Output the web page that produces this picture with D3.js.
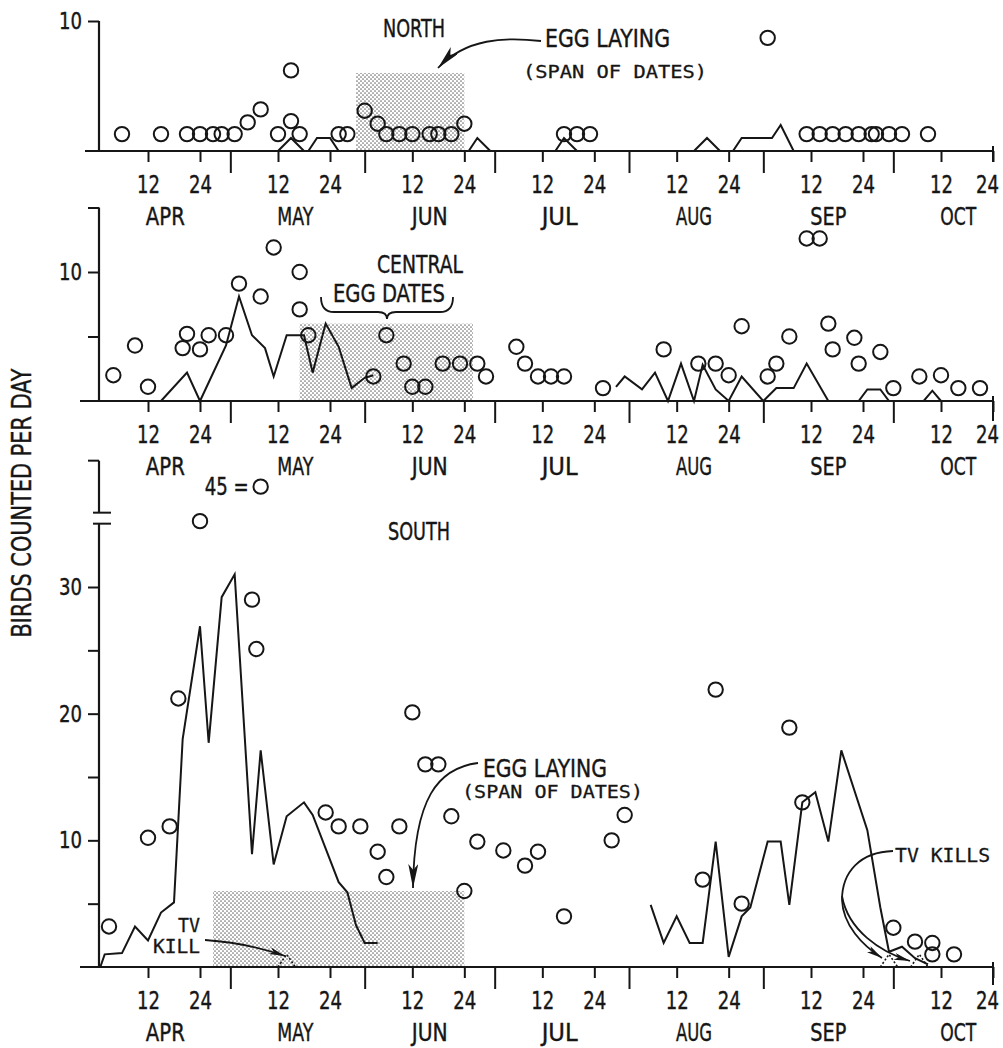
<!DOCTYPE html>
<html>
<head>
<meta charset="utf-8">
<title>Birds counted per day</title>
<script src="https://cdn.jsdelivr.net/npm/d3@7"></script>
<style>
  body { margin: 0; background: #fff; }
  svg { display: block; }
  .lbl { font-family: "Liberation Sans Narrow", "DejaVu Sans Condensed", "Liberation Sans", sans-serif; fill: #161616; stroke: #161616; stroke-width: 0.4px; }
  .typed { font-family: "DejaVu Sans Mono", "Liberation Mono", monospace; fill: #161616; stroke: #161616; stroke-width: 0.3px; }
</style>
</head>
<body>
<div id="chart"></div>
<script>
/* * * * * * * * * * * * * * * * *
 *  birds counted per day, 3 zones *
 * * * * * * * * * * * * * * * * */

// ---- data (dates are MM-DD) ----
const monthNames = ["APR", "MAY", "JUN", "JUL", "AUG", "SEP", "OCT"];
const monthNums = ["04", "05", "06", "07", "08", "09", "10"];
const dayTickDays = ["12", "24"];
const monthStartTicks = ["05-01", "06-01", "07-01", "08-01", "09-01", "10-01"];

// north
const northDotDates = ["04-06","04-15","04-21","04-24","04-27","04-29","05-02","05-05","05-08","05-12","05-15","05-15","05-17","05-26","05-28","06-01","06-04","06-06","06-09","06-12","06-16","06-18","06-21","06-24","07-17","07-20","07-23","09-02","09-11","09-14","09-17","09-20","09-23","09-26","09-27","09-30","10-03","10-09"];
const northDotValues = [1.3,1.3,1.3,1.3,1.3,1.3,1.3,2.2,3.2,1.3,2.3,6.2,1.3,1.3,1.3,3.1,2.1,1.3,1.3,1.3,1.3,1.3,1.3,2.1,1.3,1.3,1.3,8.7,1.3,1.3,1.3,1.3,1.3,1.3,1.3,1.3,1.3,1.3];
const northLineDates = ["05-12","05-15","05-18","05-19","05-21","05-24","05-26","06-25","06-27","06-30","07-15","07-17","07-20","08-16","08-19","08-22","08-25","08-27","09-03","09-05","09-08"];
const northLineValues = [0,1,0,0,1,1,0,0,1,0,0,1,0,0,1,0,0,1,1,2,0];

// central
const centralDotDates = ["04-04","04-09","04-12","04-20","04-21","04-24","04-26","04-30","05-03","05-08","05-11","05-17","05-17","05-19","06-03","06-06","06-10","06-12","06-15","06-19","06-23","06-27","06-29","07-06","07-08","07-11","07-14","07-17","07-26","08-09","08-17","08-21","08-24","08-27","09-02","09-04","09-07","09-11","09-14","09-16","09-17","09-22","09-23","09-28","10-01","10-07","10-12","10-16","10-21"];
const centralDotValues = [2.0,4.3,1.1,4.1,5.2,4.0,5.1,5.1,9.1,8.1,11.9,10.0,7.1,5.1,1.9,5.1,2.9,1.1,1.1,2.9,2.9,2.9,1.9,4.2,2.9,1.9,1.9,1.9,1.0,4.0,2.9,2.9,2.0,5.8,1.9,2.9,5.0,12.6,12.6,6.0,4.0,4.9,2.9,3.8,1.0,1.9,2.0,1.0,1.0];
const centralLineADates = ["04-15","04-21","04-24","04-30","05-03","05-06","05-09","05-11","05-14","05-18","05-20","05-23","05-26","05-29","06-01","06-03"];
const centralLineAValues = [0,2.2,0,4.3,8.1,5.1,4.1,1.9,5.1,5.1,2.2,6.0,4.2,1.0,1.8,2.0];
const centralLineBDates = ["07-29","07-31","08-04","08-07","08-10","08-13","08-16","08-18","08-21","08-24","08-27","09-01","09-04","09-08","09-11","09-16","09-23","09-25","09-28","09-30","10-08","10-10","10-12"];
const centralLineBValues = [1.1,1.9,0.9,2.2,0,2.9,0,2.8,0.9,0,1.9,0,1.0,1.0,2.9,0,0,0.9,0.9,0,0,0.8,0];

// south
const southDotDates = ["04-03","04-12","04-17","04-19","04-24","05-06","05-07","05-23","05-26","05-31","06-04","06-06","06-09","06-12","06-15","06-18","06-21","06-24","06-27","07-03","07-08","07-11","07-17","07-28","07-31","08-18","08-21","08-27","09-07","09-10","10-01","10-06","10-10","10-10","10-15"];
const southDotValues = [3.2,10.2,11.1,21.2,35.2,29.0,25.1,12.2,11.1,11.1,9.1,7.1,11.1,20.1,16.0,16.0,11.9,6.0,9.9,9.2,8.0,9.1,4.0,10.0,12.0,6.9,21.9,5.0,18.9,13.0,3.1,2.0,1.9,1.0,1.0];
const southBreakDotDates = ["05-08"];
const southBreakDotValues = [45];
const southLineADates = ["04-01","04-02","04-06","04-09","04-12","04-15","04-18","04-20","04-24","04-26","04-29","05-02","05-06","05-08","05-11","05-14","05-18","05-20","05-26","05-28","05-30","06-01","06-04"];
const southLineAValues = [0,1.0,1.1,3.2,2.1,4.3,5.1,18.0,26.9,17.7,29.2,31.0,8.9,17.1,8.1,11.9,13.0,12.0,6.7,5.9,3.3,1.9,1.9];
const southLineBDates = ["08-06","08-09","08-12","08-15","08-18","08-21","08-24","08-27","08-29","09-02","09-05","09-07","09-10","09-13","09-16","09-19","09-25","09-28","09-30","10-03","10-06","10-09"];
const southLineBValues = [4.9,1.9,4.0,1.9,1.9,9.9,0.8,4.0,4.7,9.9,9.9,4.9,13.0,13.8,9.9,17.1,10.8,4.7,1.2,1.6,0.7,0.2];
const tvKillDates = ["05-14", "09-30", "10-07"];
const tvKillValue = 1;

// egg laying span per panel (north, central, south)
const eggStartDates = ["05-30", "05-17", "04-27"];
const eggEndDates = ["06-24", "06-26", "06-24"];
const eggTopValue = 6;

// ---- setup ----
const ink = "#161616";
const parseDay = d3.timeParse("%Y-%m-%d");
const day = s => parseDay("1970-" + s);
const yAxisX = 99;

const svg = d3.select("#chart").append("svg")
    .attr("width", 1003)
    .attr("height", 1048);

const defs = svg.append("defs");
const stip = defs.append("pattern")
    .attr("id", "stipple")
    .attr("width", 4).attr("height", 4)
    .attr("patternUnits", "userSpaceOnUse");
stip.append("circle").attr("cx", 1).attr("cy", 1).attr("r", 0.85).attr("fill", "#707070");
stip.append("circle").attr("cx", 3).attr("cy", 3).attr("r", 0.85).attr("fill", "#707070");

function addArrow(id, len, half) {
    defs.append("marker")
        .attr("id", id)
        .attr("viewBox", `0 ${-half} ${len} ${half * 2}`)
        .attr("refX", len).attr("refY", 0)
        .attr("markerWidth", len).attr("markerHeight", half * 2)
        .attr("markerUnits", "userSpaceOnUse")
        .attr("orient", "auto")
        .append("path")
        .attr("d", `M0,${-half}L${len},0L0,${half}L${len * 0.25},0Z`)
        .attr("fill", ink);
}
addArrow("arrowBig", 24, 5);
addArrow("arrowSmall", 16, 3.5);

// one shared time axis for all three panels
const x = d3.scaleTime()
    .domain([day("04-12"), day("10-24")])
    .range([148, 993]);

class PanelVis {
    constructor(parent, cfg) {
        this.parent = parent;
        Object.assign(this, cfg);
        this.initVis();
    }

    initVis() {
        let vis = this;
        vis.y = d3.scaleLinear().domain([0, vis.refValue]).range([vis.baseline, vis.refY]);
        vis.g = vis.parent.append("g").attr("class", "panel " + vis.name);

        // stippled egg laying span
        vis.g.append("rect")
            .attr("x", x(day(vis.eggStart)))
            .attr("width", x(day(vis.eggEnd)) - x(day(vis.eggStart)))
            .attr("y", vis.y(eggTopValue))
            .attr("height", vis.y(0) - vis.y(eggTopValue))
            .attr("fill", "url(#stipple)");

        vis.drawXAxis();
        vis.drawYAxis();

        // counts joined by lines
        let line = d3.line()
            .x(d => x(day(d[0])))
            .y(d => vis.y(d[1]));

        vis.g.selectAll(".count-line")
            .data(vis.lines)
            .enter()
            .append("path")
            .attr("class", "count-line")
            .attr("d", d => line(d3.zip(d.dates, d.values)))
            .attr("fill", "none")
            .attr("stroke", ink)
            .attr("stroke-width", 2)
            .attr("stroke-linejoin", "miter");

        // open circles
        vis.g.selectAll(".dot")
            .data(d3.zip(vis.dotDates, vis.dotValues))
            .enter()
            .append("circle")
            .attr("class", "dot")
            .attr("cx", d => x(day(d[0])))
            .attr("cy", d => vis.y(d[1]))
            .attr("r", 7.2)
            .attr("fill", "none")
            .attr("stroke", ink)
            .attr("stroke-width", 2);
    }

    drawXAxis() {
        let vis = this;
        let end = x(day("10-24"));

        vis.g.append("line")
            .attr("x1", vis.axisStart).attr("x2", end)
            .attr("y1", vis.baseline).attr("y2", vis.baseline)
            .attr("stroke", ink).attr("stroke-width", 2.2);

        let dayTicks = [];
        monthNums.forEach(m => dayTickDays.forEach(dd => dayTicks.push(day(m + "-" + dd))));

        vis.g.append("g")
            .attr("transform", `translate(0,${vis.baseline})`)
            .call(d3.axisBottom(x).tickValues(dayTicks).tickSize(11).tickFormat(d3.timeFormat("%-d")))
            .call(g => g.select(".domain").remove())
            .call(g => g.attr("font-family", null).attr("font-size", null))
            .call(g => g.selectAll(".tick line").attr("stroke", ink).attr("stroke-width", 2))
            .call(g => g.selectAll(".tick text")
                .attr("class", "lbl")
                .attr("y", 33).attr("dy", "0.36em")
                // last label sits at the page edge: nudge it in
                .attr("x", d => +d === +day("10-24") ? -6 : 0)
                .attr("font-size", 25)
                .attr("textLength", 23)
                .attr("lengthAdjust", "spacingAndGlyphs"));

        // longer ticks between months
        vis.g.append("g")
            .attr("transform", `translate(0,${vis.baseline})`)
            .call(d3.axisBottom(x).tickValues(monthStartTicks.map(day)).tickSize(22).tickFormat(""))
            .call(g => g.select(".domain").remove())
            .call(g => g.selectAll(".tick line").attr("stroke", ink).attr("stroke-width", 2));

        // end mark
        vis.g.append("line")
            .attr("x1", end).attr("x2", end)
            .attr("y1", vis.baseline - 5).attr("y2", vis.baseline + vis.endTick)
            .attr("stroke", ink).attr("stroke-width", 2);

        vis.g.selectAll(".month-label")
            .data(monthNames)
            .enter()
            .append("text")
            .attr("class", "lbl month-label")
            .attr("x", (d, i) => x(day(monthNums[i] + "-16")))
            .attr("y", vis.baseline + 65)
            .attr("dy", "0.36em")
            .attr("text-anchor", "middle")
            .attr("font-size", 25)
            .attr("textLength", d => d === "APR" ? 39 : 36)
            .attr("lengthAdjust", "spacingAndGlyphs")
            .text(d => d);
    }

    drawYAxis() {
        let vis = this;
        vis.g.append("line")
            .attr("x1", yAxisX).attr("x2", yAxisX)
            .attr("y1", vis.y(vis.axisTop)).attr("y2", vis.baseline)
            .attr("stroke", ink).attr("stroke-width", 2.2);

        vis.g.append("g")
            .attr("transform", `translate(${yAxisX},0)`)
            .call(d3.axisLeft(vis.y).tickValues(vis.yTicks).tickSize(11).tickPadding(6)
                .tickFormat(d => vis.yLabels.includes(d) ? d : ""))
            .call(g => g.select(".domain").remove())
            .call(g => g.attr("font-family", null).attr("font-size", null))
            .call(g => g.selectAll(".tick line").attr("stroke", ink).attr("stroke-width", 2))
            .call(g => g.selectAll(".tick text")
                .attr("class", "lbl")
                .attr("font-size", 23)
                .attr("textLength", d => vis.yLabels.includes(d) ? 23 : null)
                .attr("lengthAdjust", "spacingAndGlyphs"));
    }
}

const north = new PanelVis(svg, {
    name: "north", baseline: 151, refValue: 10, refY: 21, axisTop: 10, axisStart: 85, endTick: 11,
    yTicks: [10], yLabels: [10],
    eggStart: eggStartDates[0], eggEnd: eggEndDates[0],
    dotDates: northDotDates, dotValues: northDotValues,
    lines: [{dates: northLineDates, values: northLineValues}]
});

const central = new PanelVis(svg, {
    name: "central", baseline: 401, refValue: 10, refY: 272, axisTop: 15, axisStart: 80, endTick: 20,
    yTicks: [5, 10, 15], yLabels: [10],
    eggStart: eggStartDates[1], eggEnd: eggEndDates[1],
    dotDates: centralDotDates, dotValues: centralDotValues,
    lines: [{dates: centralLineADates, values: centralLineAValues},
            {dates: centralLineBDates, values: centralLineBValues}]
});

const south = new PanelVis(svg, {
    name: "south", baseline: 967, refValue: 30, refY: 587, axisTop: 35, axisStart: 80, endTick: 18,
    yTicks: [5, 10, 15, 20, 25, 30], yLabels: [10, 20, 30],
    eggStart: eggStartDates[2], eggEnd: eggEndDates[2],
    dotDates: southDotDates, dotValues: southDotValues,
    lines: [{dates: southLineADates, values: southLineAValues},
            {dates: southLineBDates, values: southLineBValues}]
});

// ---- broken axis on top of the south panel (for the 45 count) ----
let breakY = south.y(35);
let yTop = d3.scaleLinear().domain([40, 50]).range([breakY - 11, breakY - 63]);
let brk = svg.append("g").attr("class", "axis-break");
brk.selectAll(".break-mark")
    .data([breakY, breakY - 11])
    .enter()
    .append("line")
    .attr("x1", yAxisX - 6).attr("x2", yAxisX + 12)
    .attr("y1", d => d).attr("y2", d => d)
    .attr("stroke", ink).attr("stroke-width", 2);
brk.append("line")
    .attr("x1", yAxisX).attr("x2", yAxisX)
    .attr("y1", yTop(40)).attr("y2", yTop(50))
    .attr("stroke", ink).attr("stroke-width", 2.2);
brk.append("line")
    .attr("x1", yAxisX - 11).attr("x2", yAxisX)
    .attr("y1", yTop(50)).attr("y2", yTop(50))
    .attr("stroke", ink).attr("stroke-width", 2);
brk.selectAll(".dot")
    .data(d3.zip(southBreakDotDates, southBreakDotValues))
    .enter()
    .append("circle")
    .attr("cx", d => x(day(d[0])))
    .attr("cy", d => yTop(d[1]))
    .attr("r", 7.2)
    .attr("fill", "none")
    .attr("stroke", ink)
    .attr("stroke-width", 2);
brk.selectAll(".break-label")
    .data(d3.zip(southBreakDotDates, southBreakDotValues))
    .enter()
    .append("text")
    .attr("class", "lbl")
    .attr("x", d => x(day(d[0])) - 12)
    .attr("y", d => yTop(d[1]))
    .attr("dy", "0.36em")
    .attr("text-anchor", "end")
    .attr("font-size", 24)
    .attr("textLength", 44)
    .attr("lengthAdjust", "spacingAndGlyphs")
    .text(d => d[1] + " =");

// TV kills, dotted tents on the south baseline
let tvLine = d3.line().x(d => x(d[0])).y(d => south.y(d[1]));
svg.append("g").selectAll("path")
    .data(tvKillDates)
    .enter()
    .append("path")
    .attr("d", d => tvLine([[d3.timeDay.offset(day(d), -2), 0], [day(d), tvKillValue], [d3.timeDay.offset(day(d), 2), 0]]))
    .attr("fill", "none")
    .attr("stroke", ink)
    .attr("stroke-width", 1.6)
    .attr("stroke-dasharray", "2,2");

// ---- labels and arrows ----
let notes = svg.append("g").attr("class", "notes");

function label(txt, px, py, size, len, cls, anchor) {
    notes.append("text")
        .attr("class", cls)
        .attr("x", px).attr("y", py)
        .attr("text-anchor", anchor || "start")
        .attr("font-size", size)
        .attr("textLength", len)
        .attr("lengthAdjust", "spacingAndGlyphs")
        .text(txt);
}

function arrow(d, marker) {
    notes.append("path")
        .attr("d", d)
        .attr("fill", "none")
        .attr("stroke", ink)
        .attr("stroke-width", 1.8)
        .attr("marker-end", marker ? `url(#${marker})` : null);
}

// y title
notes.append("text")
    .attr("class", "lbl")
    .attr("transform", "translate(22,503) rotate(-90)")
    .attr("text-anchor", "middle")
    .attr("dy", "0.36em")
    .attr("font-size", 26)
    .attr("textLength", 269)
    .attr("lengthAdjust", "spacingAndGlyphs")
    .text("BIRDS COUNTED PER DAY");

// north
label("NORTH", 414, 37, 25, 62, "lbl", "middle");
label("EGG LAYING", 545, 47, 25, 125, "lbl");
label("(SPAN OF DATES)", 523, 78, 18, 184, "typed");
arrow("M541,41 C505,37 466,38 438,68", "arrowBig");

// central
label("CENTRAL", 420, 273, 25, 86, "lbl", "middle");
label("EGG DATES", 389, 302, 25, 112, "lbl", "middle");
arrow("M321,297 Q321,312 334,312 L378,312 Q387,312 387,319 Q387,312 396,312 L440,312 Q453,312 453,297");

// south
label("SOUTH", 419, 540, 25, 62, "lbl", "middle");
label("EGG LAYING", 483, 777, 25, 124, "lbl");
label("(SPAN OF DATES)", 462, 798, 18, 181, "typed");
arrow("M478,763 C438,768 414,798 413,888", "arrowBig");
label("TV", 200, 932, 19, 22, "typed", "end");
label("KILL", 200, 953, 19, 47, "typed", "end");
arrow("M205,940 C235,942 262,948 285,956", "arrowSmall");
label("TV KILLS", 895, 862, 20, 95, "typed");
arrow("M893,851 C860,852 842,872 842,900 C843,925 862,945 882,958", "arrowSmall");
arrow("M842,896 C848,930 880,952 910,961", "arrowSmall");
</script>
</body>
</html>
